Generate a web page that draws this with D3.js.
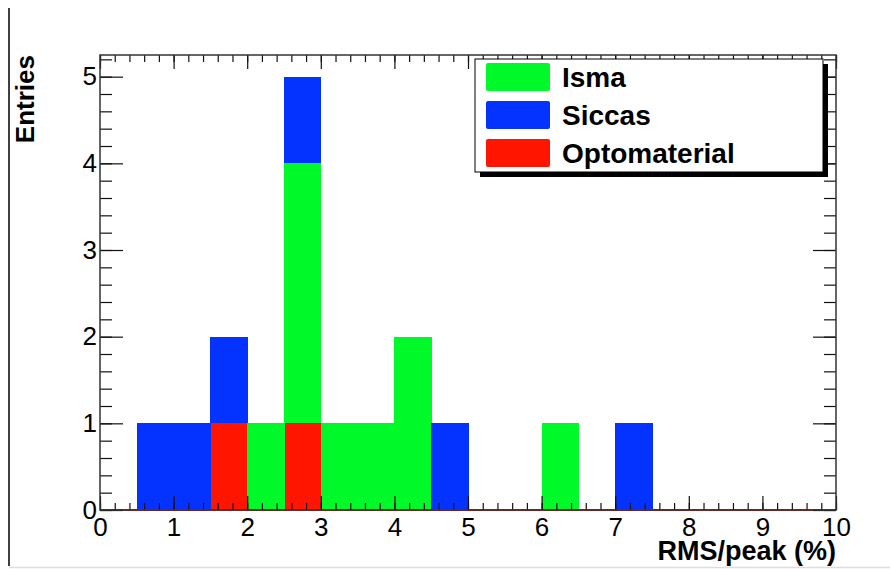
<!DOCTYPE html>
<html>
<head>
<meta charset="utf-8">
<script src="https://cdn.jsdelivr.net/npm/d3@7"></script>
<style>
  body { margin: 0; background: #fff; }
  svg { display: block; font-family: "Liberation Sans", Arial, sans-serif; }
</style>
</head>
<body>
<svg width="890" height="569"></svg>
<script>
// bins of width 0.5 from 0 to 10
const binStarts = [0, 0.5, 1, 1.5, 2, 2.5, 3, 3.5, 4, 4.5, 5, 5.5, 6, 6.5, 7, 7.5, 8, 8.5, 9, 9.5];
const binWidth = 0.5;

const isma   = [0, 0, 0, 0, 1, 3, 1, 1, 2, 0, 0, 0, 1, 0, 0, 0, 0, 0, 0, 0];
const siccas = [0, 1, 1, 1, 0, 1, 0, 0, 0, 1, 0, 0, 0, 0, 1, 0, 0, 0, 0, 0];
const opto   = [0, 0, 0, 1, 0, 1, 0, 0, 0, 0, 0, 0, 0, 0, 0, 0, 0, 0, 0, 0];

const seriesNames = ["Isma", "Siccas", "Optomaterial"];
const seriesColors = ["#00f928", "#0433ff", "#ff1500"];
// stacking order, bottom first
const stackKeys = ["Optomaterial", "Isma", "Siccas"];

const xTicks = [0, 1, 2, 3, 4, 5, 6, 7, 8, 9, 10];
const yTicks = [0, 1, 2, 3, 4, 5];

const svg = d3.select("svg");
const padL = 100, padR = 836, padT = 55, padB = 510;

const x = d3.scaleLinear().domain([0, 10]).range([padL, padR]);
const y = d3.scaleLinear().domain([0, 5.25]).range([padB, padT]);
const color = d3.scaleOrdinal().domain(seriesNames).range(seriesColors);

// canvas edge lines
svg.append("line").attr("x1", 9).attr("x2", 9).attr("y1", 8).attr("y2", 566)
    .attr("stroke", "#000").attr("stroke-width", 1.5);
svg.append("line").attr("x1", 9).attr("x2", 890).attr("y1", 567.5).attr("y2", 567.5)
    .attr("stroke", "#ddd").attr("stroke-width", 1.5);

// build table for the stack
const table = binStarts.map((b, i) => ({
    start: b,
    Isma: isma[i],
    Siccas: siccas[i],
    Optomaterial: opto[i]
}));

const stacked = d3.stack().keys(stackKeys)(table);

svg.append("g").selectAll("g")
    .data(stacked)
    .join("g")
    .attr("fill", d => color(d.key))
    .attr("shape-rendering", "crispEdges")
    .selectAll("rect")
    .data(d => d.filter(s => s[1] > s[0]))
    .join("rect")
    .attr("x", d => x(d.data.start))
    .attr("width", d => x(d.data.start + binWidth) - x(d.data.start) + 0.5)
    .attr("y", d => y(d[1]))
    .attr("height", d => y(d[0]) - y(d[1]));

// red zero line of the lowest histogram
svg.append("line")
    .attr("x1", x(0)).attr("x2", x(10))
    .attr("y1", y(0)).attr("y2", y(0))
    .attr("stroke", "#ff1500").attr("stroke-width", 2);

// axes: major and minor ticks, pointing inward
const minorX = d3.range(0, 51).map(i => i * 0.2);
const minorY = d3.range(0, 27).map(i => i * 0.2);

function styleAxis(g) {
    g.select(".domain").remove();
    g.selectAll(".tick line").attr("stroke", "#111").attr("stroke-width", 1.2);
    g.selectAll(".tick text").attr("fill", "#000").attr("font-size", 26);
}

// bottom
svg.append("g").attr("transform", `translate(0,${padB})`)
    .call(d3.axisBottom(x).tickValues(minorX).tickSize(-7).tickFormat(""))
    .call(styleAxis);
svg.append("g").attr("transform", `translate(0,${padB})`)
    .call(d3.axisBottom(x).tickValues(xTicks).tickSize(-14).tickFormat(d3.format("d")))
    .call(styleAxis)
    .call(g => g.selectAll(".tick text").attr("y", 8).attr("dy", "0.71em"));

// top
svg.append("g").attr("transform", `translate(0,${padT})`)
    .call(d3.axisTop(x).tickValues(minorX).tickSize(-7).tickFormat(""))
    .call(styleAxis);
svg.append("g").attr("transform", `translate(0,${padT})`)
    .call(d3.axisTop(x).tickValues(xTicks).tickSize(-14).tickFormat(""))
    .call(styleAxis);

// left
svg.append("g").attr("transform", `translate(${padL},0)`)
    .call(d3.axisLeft(y).tickValues(minorY).tickSize(-12).tickFormat(""))
    .call(styleAxis);
svg.append("g").attr("transform", `translate(${padL},0)`)
    .call(d3.axisLeft(y).tickValues(yTicks).tickSize(-23).tickFormat(d3.format("d")))
    .call(styleAxis)
    .call(g => g.selectAll(".tick text").attr("x", -3));

// right
svg.append("g").attr("transform", `translate(${padR},0)`)
    .call(d3.axisRight(y).tickValues(minorY).tickSize(-12).tickFormat(""))
    .call(styleAxis);
svg.append("g").attr("transform", `translate(${padR},0)`)
    .call(d3.axisRight(y).tickValues(yTicks).tickSize(-23).tickFormat(""))
    .call(styleAxis);

// frame
svg.append("rect")
    .attr("x", padL).attr("y", padT)
    .attr("width", padR - padL).attr("height", padB - padT)
    .attr("fill", "none").attr("stroke", "#333").attr("stroke-width", 1.5);

// axis titles
svg.append("text")
    .attr("x", padR).attr("y", 560)
    .attr("text-anchor", "end")
    .attr("font-size", 27).attr("font-weight", "bold")
    .text("RMS/peak (%)");

svg.append("text")
    .attr("transform", "translate(34,55) rotate(-90)")
    .attr("text-anchor", "end")
    .attr("font-size", 26).attr("font-weight", "bold")
    .text("Entries");

// legend
const legend = svg.append("g");
legend.append("rect")
    .attr("x", 480).attr("y", 64).attr("width", 348).attr("height", 113)
    .attr("fill", "#000");
legend.append("rect")
    .attr("x", 475).attr("y", 59).attr("width", 348).attr("height", 113)
    .attr("fill", "#fff").attr("stroke", "#000").attr("stroke-width", 1);

const rowY = d3.scalePoint().domain(seriesNames).range([77, 153]);

legend.selectAll("rect.sw")
    .data(seriesNames)
    .join("rect")
    .attr("class", "sw")
    .attr("x", 486).attr("y", d => rowY(d) - 14)
    .attr("width", 64).attr("height", 28)
    .attr("rx", 2)
    .attr("fill", d => color(d));

legend.selectAll("text")
    .data(seriesNames)
    .join("text")
    .attr("x", 562).attr("y", d => rowY(d))
    .attr("dy", "0.36em")
    .attr("font-size", 28).attr("font-weight", "bold")
    .text(d => d);
</script>
</body>
</html>
